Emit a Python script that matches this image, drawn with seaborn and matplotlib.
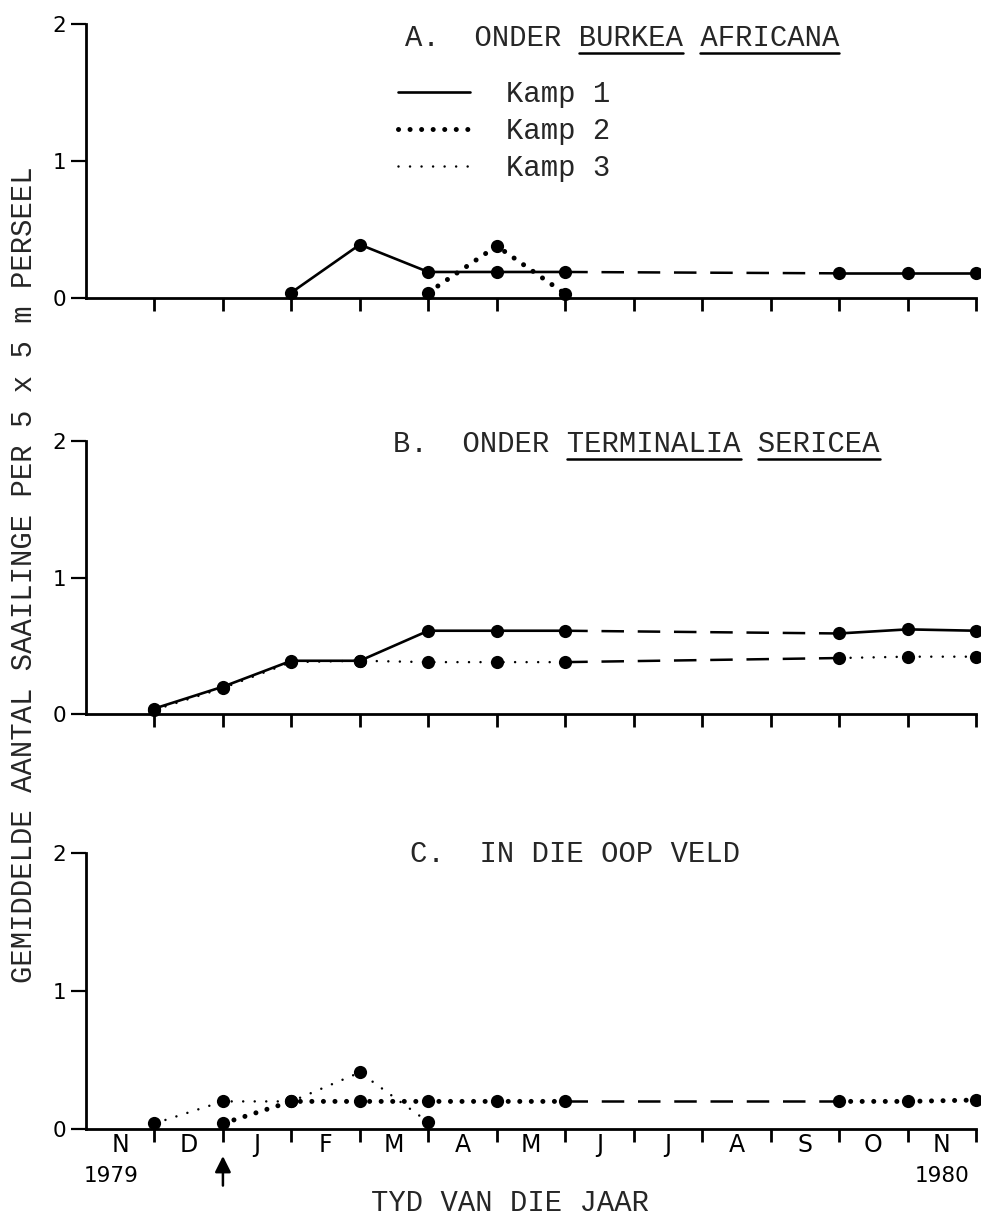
import numpy as np
import pandas as pd
import matplotlib
matplotlib.use("Agg")
import matplotlib.pyplot as plt
import seaborn as sns
from matplotlib.lines import Line2D
from matplotlib.transforms import blended_transform_factory

# maand-grense 0..13 (Nov 1979 .. Nov 1980), letters sit between the ticks
months = ["N", "D", "J", "F", "M", "A", "M", "J", "J", "A", "S", "O", "N"]
year_labels = ["1979", "1980"]
year_pos = [0.37, 12.5]
panel_titles = ["A.  ONDER BURKEA AFRICANA",
                "B.  ONDER TERMINALIA SERICEA",
                "C.  IN DIE OOP VELD"]
underlined = [["BURKEA", "AFRICANA"], ["TERMINALIA", "SERICEA"], []]
legend_labels = ["Kamp 1", "Kamp 2", "Kamp 3"]

# A. onder Burkea africana
a_kamp1_x = [3, 4, 5, 6, 7, 11, 12, 13]
a_kamp1_y = [0.04, 0.39, 0.19, 0.19, 0.19, 0.18, 0.18, 0.18]
a_kamp2_x = [5, 6, 7]
a_kamp2_y = [0.04, 0.38, 0.03]

# B. onder Terminalia sericea
b_kamp1_x = [1, 2, 3, 4, 5, 6, 7, 11, 12, 13]
b_kamp1_y = [0.04, 0.20, 0.39, 0.39, 0.61, 0.61, 0.61, 0.59, 0.62, 0.61]
b_kamp3_x = [1, 2, 3, 4, 5, 6, 7, 11, 12, 13]
b_kamp3_y = [0.03, 0.19, 0.38, 0.39, 0.38, 0.38, 0.38, 0.41, 0.42, 0.42]

# C. in die oop veld
c_kamp2_x = [2, 3, 4, 5, 6, 7, 11, 12, 13]
c_kamp2_y = [0.04, 0.20, 0.20, 0.20, 0.20, 0.20, 0.20, 0.20, 0.21]
c_kamp3_x = [1, 2, 3, 4, 5]
c_kamp3_y = [0.04, 0.20, 0.20, 0.41, 0.05]

MONO = "Liberation Mono"
SANS = "DejaVu Sans"
FS = 20.8

sns.set_style("ticks")
plt.rcParams["font.family"] = [MONO, "DejaVu Sans"]

styles = {
    "Kamp 1": dict(linestyle="-", linewidth=1.9),
    "Kamp 2": dict(linestyle=(0, (0.01, 2.3)), linewidth=3.6, dash_capstyle="round"),
    "Kamp 3": dict(linestyle=(0, (0.01, 4.6)), linewidth=1.8, dash_capstyle="round"),
}
gap_style = dict(linestyle=(0, (9, 5.5)), linewidth=1.8)


def draw_series(ax, xs, ys, kamp):
    df = pd.DataFrame({"maand": xs, "waarde": ys})
    run = (df["maand"].diff() > 1).cumsum()
    for _, part in df.groupby(run):
        sns.lineplot(data=part, x="maand", y="waarde", ax=ax, color="black",
                     marker="o", markersize=9.5, markeredgewidth=0,
                     markeredgecolor="black", errorbar=None, clip_on=False,
                     zorder=3, **styles[kamp])
    # no sampling in winter: bridged with a long dashed line
    for i in np.where(np.diff(xs) > 1)[0]:
        sns.lineplot(x=[xs[i], xs[i + 1]], y=[ys[i], ys[i + 1]], ax=ax,
                     color="black", errorbar=None, zorder=2, **gap_style)


fig = plt.figure(figsize=(9.81, 12.16), dpi=100)
W, H = 981, 1216
panel_px = [(24, 298), (441, 714), (853, 1129)]
axes = []
for top, bottom in panel_px:
    ax = fig.add_axes([86 / W, 1 - bottom / H, 890 / W, (bottom - top) / H])
    axes.append(ax)
ax_a, ax_b, ax_c = axes

draw_series(ax_a, a_kamp2_x, a_kamp2_y, "Kamp 2")
draw_series(ax_a, a_kamp1_x, a_kamp1_y, "Kamp 1")
draw_series(ax_b, b_kamp3_x, b_kamp3_y, "Kamp 3")
draw_series(ax_b, b_kamp1_x, b_kamp1_y, "Kamp 1")
draw_series(ax_c, c_kamp3_x, c_kamp3_y, "Kamp 3")
draw_series(ax_c, c_kamp2_x, c_kamp2_y, "Kamp 2")

for ax in axes:
    ax.set_xlim(0, 13)
    ax.set_ylim(0, 2)
    ax.set_xlabel("")
    ax.set_ylabel("")
    ax.set_facecolor("white")
    for side in ["top", "right"]:
        ax.spines[side].set_visible(False)
    for side in ["left", "bottom"]:
        ax.spines[side].set_linewidth(2.0)
        ax.spines[side].set_color("black")
    ax.set_yticks([0, 1, 2])
    ax.set_yticklabels(["0", "1", "2"])
    ax.tick_params(axis="y", length=11, width=1.6, pad=3, color="black",
                   labelsize=15.5, labelfontfamily=SANS, labelcolor="black")
    ax.set_xticks(range(1, 14))
    ax.set_xticklabels([])
    ax.tick_params(axis="x", which="major", length=9.5, width=2.0, color="black")

ax_c.set_xticks(np.arange(13) + 0.5, minor=True)
ax_c.set_xticklabels(months, minor=True)
ax_c.tick_params(axis="x", which="minor", length=0, pad=3,
                 labelsize=17, labelfontfamily=SANS, labelcolor="black")

trans = blended_transform_factory(ax_c.transData, ax_c.transAxes)
for pos, lab in zip(year_pos, year_labels):
    ax_c.text(pos, -0.172, lab, transform=trans, ha="center", va="center",
              family=SANS, fontsize=15.5, color="black")
ax_c.annotate("", xy=(2, -0.098), xytext=(2, -0.205), xycoords=trans,
              textcoords=trans,
              arrowprops=dict(arrowstyle="-|>", color="black", lw=1.8,
                              mutation_scale=24, shrinkA=0, shrinkB=0))

# legend only in panel A
handles = [Line2D([], [], color="black", **styles[k]) for k in legend_labels]
ax_a.legend(handles, legend_labels, loc="upper left",
            bbox_to_anchor=(398 / W, 1 - 80 / H), bbox_transform=fig.transFigure,
            frameon=False, handlelength=2.5, handletextpad=1.25,
            labelspacing=0.32, borderpad=0, borderaxespad=0,
            prop=dict(family=MONO, size=FS))

title_px = [(405, 38), (393, 444), (410, 854)]
title_texts = []
for (x, y), s in zip(title_px, panel_titles):
    t = fig.text(x / W, 1 - y / H, s, family=MONO, fontsize=FS, va="center")
    title_texts.append(t)

fig.text(24 / W, 1 - 575 / H, "GEMIDDELDE AANTAL SAAILINGE PER 5 x 5 m PERSEEL",
         rotation=90, ha="center", va="center", family=MONO, fontsize=FS)
fig.text(510 / W, 1 - 1203 / H, "TYD VAN DIE JAAR", ha="center", va="center",
         family=MONO, fontsize=FS)

# underline the species names
fig.canvas.draw()
renderer = fig.canvas.get_renderer()
for t, s, words in zip(title_texts, panel_titles, underlined):
    bb = t.get_window_extent(renderer)
    cw = bb.width / len(s)
    for w in words:
        i = s.index(w)
        x0 = bb.x0 + i * cw
        x1 = x0 + len(w) * cw
        yline = bb.y0 - 1
        fig.add_artist(Line2D([x0 / W, x1 / W], [yline / H, yline / H],
                              transform=fig.transFigure, color="black", lw=1.8))

fig.savefig("out.png", dpi=100, facecolor="white")
